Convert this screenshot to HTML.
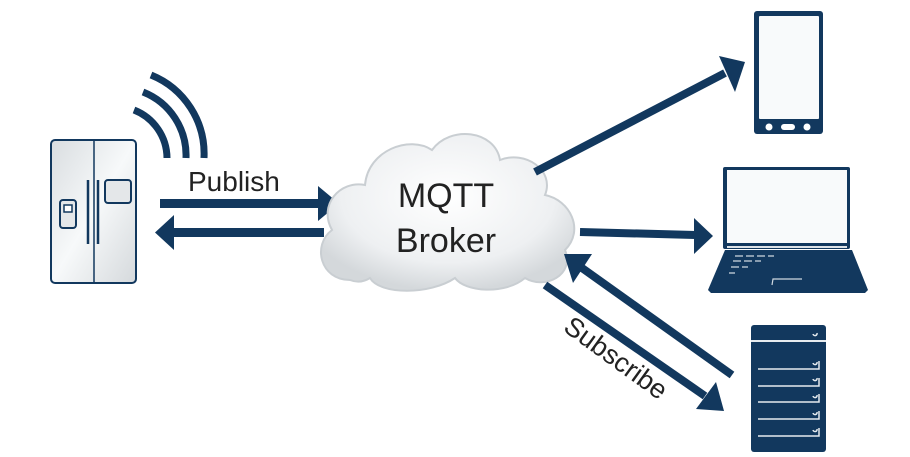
<!DOCTYPE html>
<html><head><style>body{margin:0;background:#fff}svg{display:block}</style></head><body>
<svg width="910" height="457" viewBox="0 0 910 457" xmlns="http://www.w3.org/2000/svg" font-family="Liberation Sans, sans-serif">
<defs>
<linearGradient id="fg" x1="0" y1="0" x2="1" y2="1"><stop offset="0" stop-color="#d9dde0"/><stop offset="0.5" stop-color="#f7f9fa"/><stop offset="1" stop-color="#d5d9dc"/></linearGradient>
<radialGradient id="cg" cx="0.5" cy="0.4" r="0.6"><stop offset="0" stop-color="#ffffff"/><stop offset="0.7" stop-color="#eef0f2"/><stop offset="1" stop-color="#d4d8db"/></radialGradient>
</defs>
<g fill="none" stroke="#12385e" stroke-width="7" stroke-linecap="butt">
<path d="M151,75 A85 85 0 0 1 204,158"/>
<path d="M143,92 A68 68 0 0 1 186,158"/>
<path d="M134,110 A52 52 0 0 1 167,158"/>
</g>
<rect x="51" y="140" width="85" height="143" rx="4" fill="url(#fg)" stroke="#12385e" stroke-width="2"/>
<line x1="94" y1="140" x2="94" y2="283" stroke="#12385e" stroke-width="1.5"/>
<line x1="88" y1="180" x2="88" y2="244" stroke="#12385e" stroke-width="2.5"/>
<line x1="98" y1="180" x2="98" y2="244" stroke="#12385e" stroke-width="2.5"/>
<rect x="60" y="200" width="16" height="28" rx="3" fill="#e4e7e9" stroke="#12385e" stroke-width="2"/>
<rect x="64" y="205" width="8" height="7" fill="#fff" stroke="#12385e" stroke-width="1.5"/>
<rect x="105" y="180" width="26" height="23" rx="3" fill="#e4e7e9" stroke="#12385e" stroke-width="2"/>
<text x="188" y="191" font-size="28" fill="#222">Publish</text>
<g fill="#12385e">
<rect x="160" y="199" width="162" height="9"/>
<polygon points="318,186 339,203.5 318,221"/>
<rect x="172" y="228" width="152" height="9"/>
<polygon points="174,215 155,232.5 174,250"/>
</g>
<path d="M350,280 C320,280 312,245 332,230 C318,205 340,180 365,185 C368,150 410,135 432,150 C450,125 495,130 500,160 C525,150 555,170 545,195 C570,200 585,230 565,250 C575,275 545,290 525,278 C505,295 465,292 455,278 C430,295 380,295 370,278 C362,283 355,282 350,280Z" fill="url(#cg)" stroke="#c9ced2" stroke-width="2"/>
<text x="446" y="207" font-size="34" fill="#222" text-anchor="middle">MQTT</text>
<text x="446" y="252" font-size="34" fill="#222" text-anchor="middle">Broker</text>
<g stroke="#12385e" stroke-width="8" fill="none">
<line x1="535" y1="172" x2="725" y2="73"/>
<line x1="580" y1="232" x2="695" y2="235"/>
<line x1="545" y1="285" x2="705" y2="396"/>
<line x1="732" y1="375" x2="582" y2="268"/>
</g>
<g fill="#12385e">
<polygon points="745,62 719,56 735,92"/>
<polygon points="713,236 694,218 694,254"/>
<polygon points="724,411 696,409 716,382"/>
<polygon points="564,254 592,254 573,283"/>
</g>
<text transform="translate(562,330) rotate(36)" font-size="27" fill="#222">Subscribe</text>
<rect x="754" y="11" width="69" height="123" rx="3" fill="#12385e"/>
<rect x="759" y="16" width="60" height="103" rx="1" fill="#f8fafb"/>
<circle cx="769" cy="127" r="3.5" fill="#fff"/><rect x="781" y="124" width="14" height="6" rx="3" fill="#fff"/><circle cx="807" cy="127" r="3.5" fill="#fff"/>
<rect x="723" y="167" width="127" height="82" rx="2" fill="#12385e"/>
<rect x="727" y="170" width="120" height="73" fill="#f8fafb"/>
<polygon points="725,250 852,250 868,290 865,293 711,293 708,290" fill="#12385e"/>
<line x1="727" y1="247" x2="847" y2="247" stroke="#dde3e8" stroke-width="2"/>
<g stroke="#cfd8e0" stroke-width="1.2" fill="none">
<path d="M735,256h8M746,256h8M757,256h8M768,256h6M733,261h8M744,261h8M755,261h6M731,267h8M742,267h6M729,273h6"/>
<path d="M772,285l1,-6h29"/>
</g>
<rect x="751" y="325" width="75" height="127" rx="3" fill="#12385e"/>
<line x1="751" y1="341" x2="826" y2="341" stroke="#e6ebef" stroke-width="2"/>
<g stroke="#e6ebef" stroke-width="1.5" fill="none">
<path d="M758,369h61v-8M758,386h61v-8M758,402h61v-8M758,419h61v-8M758,436h61v-8"/>
<path d="M817,333a2,2 0 0 1 -4,1M817,362a2,2 0 0 1 -4,1M817,378a2,2 0 0 1 -4,1M817,395a2,2 0 0 1 -4,1M817,412a2,2 0 0 1 -4,1M817,429a2,2 0 0 1 -4,1"/>
</g>
</svg>
</body></html>
